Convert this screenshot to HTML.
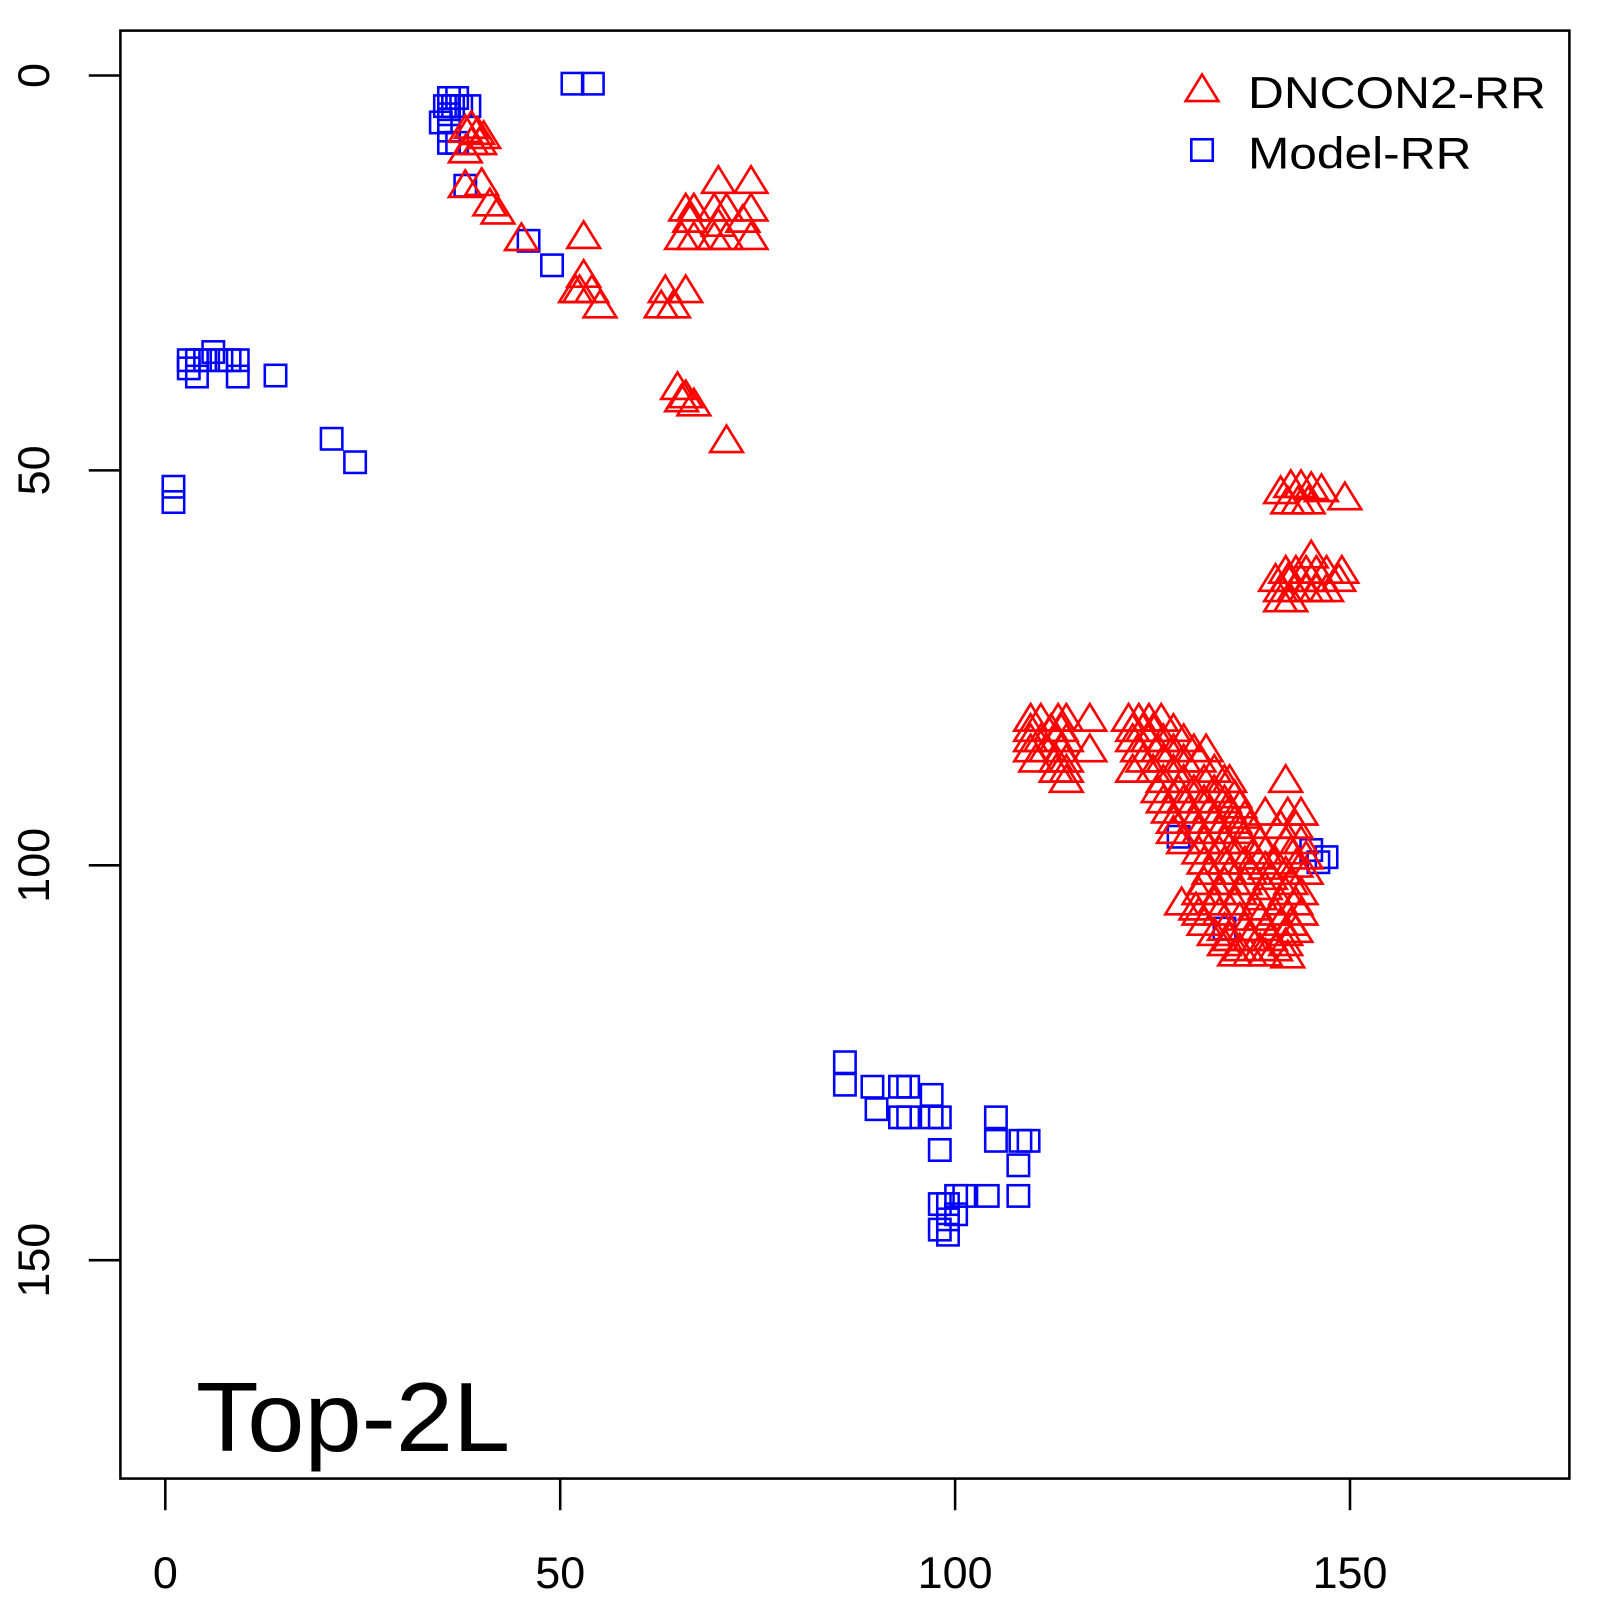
<!DOCTYPE html>
<html><head><meta charset="utf-8"><style>html,body{margin:0;padding:0;background:#fff}svg{display:block}</style></head>
<body>
<svg width="1600" height="1600" viewBox="0 0 1568 1568" xmlns="http://www.w3.org/2000/svg" font-family="Liberation Sans, sans-serif">
<defs>
<path id="t" d="M0,-15 L16,11 L-16,11 Z" fill="none" stroke="#f00" stroke-width="2.6"/>
<rect id="s" x="-10.5" y="-10.5" width="21" height="21" fill="none" stroke="#00f" stroke-width="2.5"/>
</defs>
<rect x="118" y="30" width="1420" height="1419" fill="none" stroke="#000" stroke-width="2.5"/>
<g stroke="#000" stroke-width="2.5">
<line x1="162" y1="1449" x2="162" y2="1480"/><line x1="549" y1="1449" x2="549" y2="1480"/><line x1="936" y1="1449" x2="936" y2="1480"/><line x1="1323" y1="1449" x2="1323" y2="1480"/>
<line x1="118" y1="74" x2="87" y2="74"/><line x1="118" y1="461" x2="87" y2="461"/><line x1="118" y1="848" x2="87" y2="848"/><line x1="118" y1="1235" x2="87" y2="1235"/>
</g>
<g font-size="44" text-anchor="middle" fill="#000">
<text x="162" y="1556">0</text><text x="549" y="1556">50</text><text x="936" y="1556">100</text><text x="1323" y="1556">150</text>
<text transform="translate(48,74) rotate(-90)">0</text>
<text transform="translate(48,461) rotate(-90)">50</text>
<text transform="translate(48,848) rotate(-90)">100</text>
<text transform="translate(48,1235) rotate(-90)">150</text>
</g>
<text x="192" y="1422" font-size="96" textLength="308" lengthAdjust="spacingAndGlyphs">Top-2L</text>
<use href="#t" x="1178" y="88"/><use href="#s" x="1178" y="147"/>
<text x="1223" y="106" font-size="44" textLength="292" lengthAdjust="spacingAndGlyphs">DNCON2-RR</text>
<text x="1223" y="165" font-size="44" textLength="219" lengthAdjust="spacingAndGlyphs">Model-RR</text>
<g id="sq">
<use href="#s" x="561" y="82"/><use href="#s" x="581" y="82"/>
<use href="#s" x="440" y="96"/><use href="#s" x="448" y="96"/><use href="#s" x="436" y="104"/><use href="#s" x="444" y="104"/><use href="#s" x="452" y="104"/><use href="#s" x="460" y="104"/><use href="#s" x="432" y="120"/><use href="#s" x="440" y="112"/><use href="#s" x="440" y="128"/><use href="#s" x="440" y="140"/><use href="#s" x="448" y="140"/><use href="#s" x="456" y="182"/>
<use href="#s" x="185" y="353"/><use href="#s" x="193" y="353"/><use href="#s" x="201" y="353"/><use href="#s" x="209" y="345"/><use href="#s" x="217" y="353"/><use href="#s" x="225" y="353"/><use href="#s" x="233" y="353"/><use href="#s" x="185" y="361"/><use href="#s" x="193" y="369"/><use href="#s" x="233" y="369"/><use href="#s" x="270" y="368"/><use href="#s" x="325" y="430"/><use href="#s" x="348" y="453"/><use href="#s" x="170" y="477"/><use href="#s" x="170" y="492"/>
<use href="#s" x="518" y="236"/><use href="#s" x="541" y="260"/>
<use href="#s" x="828" y="1041"/><use href="#s" x="828" y="1063"/><use href="#s" x="855" y="1065"/><use href="#s" x="859" y="1087"/><use href="#s" x="882" y="1065"/><use href="#s" x="890" y="1065"/><use href="#s" x="882" y="1095"/><use href="#s" x="890" y="1095"/><use href="#s" x="913" y="1073"/><use href="#s" x="913" y="1095"/><use href="#s" x="921" y="1095"/><use href="#s" x="921" y="1127"/><use href="#s" x="976" y="1095"/><use href="#s" x="976" y="1118"/><use href="#s" x="1000" y="1118"/><use href="#s" x="1008" y="1118"/><use href="#s" x="998" y="1142"/><use href="#s" x="998" y="1172"/><use href="#s" x="968" y="1172"/><use href="#s" x="945" y="1172"/><use href="#s" x="937" y="1172"/><use href="#s" x="929" y="1180"/><use href="#s" x="921" y="1180"/><use href="#s" x="929" y="1195"/><use href="#s" x="937" y="1190"/><use href="#s" x="929" y="1210"/><use href="#s" x="921" y="1205"/>
<use href="#s" x="1285" y="833"/><use href="#s" x="1292" y="845"/><use href="#s" x="1300" y="840"/><use href="#s" x="1155" y="820"/><use href="#s" x="1200" y="910"/>
</g>
<g id="tr">
<use href="#t" x="456" y="128"/><use href="#t" x="462" y="124"/><use href="#t" x="468" y="130"/><use href="#t" x="474" y="134"/><use href="#t" x="456" y="148"/><use href="#t" x="462" y="140"/><use href="#t" x="470" y="140"/><use href="#t" x="456" y="182"/><use href="#t" x="472" y="180"/><use href="#t" x="480" y="200"/><use href="#t" x="488" y="208"/><use href="#t" x="511" y="234"/><use href="#t" x="572" y="232"/><use href="#t" x="572" y="270"/><use href="#t" x="568" y="285"/><use href="#t" x="580" y="285"/><use href="#t" x="588" y="300"/><use href="#t" x="564" y="285"/><use href="#t" x="652" y="285"/><use href="#t" x="672" y="285"/><use href="#t" x="660" y="300"/><use href="#t" x="648" y="300"/><use href="#t" x="664" y="380"/><use href="#t" x="672" y="388"/><use href="#t" x="680" y="396"/><use href="#t" x="668" y="392"/><use href="#t" x="712" y="432"/><use href="#t" x="672" y="205"/><use href="#t" x="680" y="205"/><use href="#t" x="700" y="205"/><use href="#t" x="712" y="205"/><use href="#t" x="736" y="205"/><use href="#t" x="704" y="178"/><use href="#t" x="736" y="178"/><use href="#t" x="668" y="233"/><use href="#t" x="680" y="233"/><use href="#t" x="700" y="233"/><use href="#t" x="712" y="233"/><use href="#t" x="736" y="233"/><use href="#t" x="676" y="216"/><use href="#t" x="704" y="220"/><use href="#t" x="728" y="216"/>
<use href="#t" x="1255" y="482"/><use href="#t" x="1265" y="476"/><use href="#t" x="1275" y="476"/><use href="#t" x="1285" y="478"/><use href="#t" x="1295" y="480"/><use href="#t" x="1262" y="492"/><use href="#t" x="1272" y="492"/><use href="#t" x="1282" y="492"/><use href="#t" x="1318" y="488"/>
<use href="#t" x="1285" y="545"/><use href="#t" x="1260" y="560"/><use href="#t" x="1270" y="560"/><use href="#t" x="1280" y="560"/><use href="#t" x="1290" y="560"/><use href="#t" x="1300" y="560"/><use href="#t" x="1315" y="560"/><use href="#t" x="1250" y="568"/><use href="#t" x="1262" y="568"/><use href="#t" x="1275" y="568"/><use href="#t" x="1285" y="568"/><use href="#t" x="1295" y="568"/><use href="#t" x="1312" y="568"/><use href="#t" x="1255" y="578"/><use href="#t" x="1268" y="578"/><use href="#t" x="1280" y="578"/><use href="#t" x="1290" y="578"/><use href="#t" x="1300" y="578"/><use href="#t" x="1255" y="588"/><use href="#t" x="1265" y="588"/>
<use href="#t" x="1010" y="705"/><use href="#t" x="1020" y="705"/><use href="#t" x="1037" y="705"/><use href="#t" x="1045" y="705"/><use href="#t" x="1068" y="705"/><use href="#t" x="1106" y="705"/><use href="#t" x="1116" y="705"/><use href="#t" x="1126" y="705"/><use href="#t" x="1138" y="705"/>
<use href="#t" x="1010" y="715"/><use href="#t" x="1030" y="715"/><use href="#t" x="1040" y="715"/><use href="#t" x="1110" y="715"/><use href="#t" x="1120" y="715"/><use href="#t" x="1130" y="715"/><use href="#t" x="1150" y="715"/>
<use href="#t" x="1010" y="725"/><use href="#t" x="1020" y="725"/><use href="#t" x="1035" y="725"/><use href="#t" x="1045" y="725"/><use href="#t" x="1110" y="725"/><use href="#t" x="1125" y="725"/><use href="#t" x="1140" y="725"/><use href="#t" x="1160" y="725"/>
<use href="#t" x="1010" y="735"/><use href="#t" x="1025" y="735"/><use href="#t" x="1040" y="735"/><use href="#t" x="1068" y="735"/><use href="#t" x="1115" y="735"/><use href="#t" x="1135" y="735"/><use href="#t" x="1150" y="735"/><use href="#t" x="1170" y="735"/><use href="#t" x="1182" y="735"/>
<use href="#t" x="1015" y="745"/><use href="#t" x="1035" y="745"/><use href="#t" x="1045" y="745"/><use href="#t" x="1120" y="745"/><use href="#t" x="1140" y="745"/><use href="#t" x="1160" y="745"/><use href="#t" x="1175" y="745"/>
<use href="#t" x="1035" y="755"/><use href="#t" x="1045" y="755"/><use href="#t" x="1110" y="755"/><use href="#t" x="1130" y="755"/><use href="#t" x="1150" y="755"/><use href="#t" x="1190" y="755"/><use href="#t" x="1205" y="765"/>
<use href="#t" x="1045" y="765"/><use href="#t" x="1140" y="765"/><use href="#t" x="1160" y="765"/><use href="#t" x="1180" y="765"/><use href="#t" x="1200" y="765"/><use href="#t" x="1260" y="765"/>
<use href="#t" x="1135" y="775"/><use href="#t" x="1155" y="775"/><use href="#t" x="1170" y="775"/><use href="#t" x="1190" y="775"/><use href="#t" x="1210" y="780"/>
<use href="#t" x="1140" y="785"/><use href="#t" x="1160" y="785"/><use href="#t" x="1180" y="785"/><use href="#t" x="1200" y="785"/><use href="#t" x="1215" y="790"/>
<use href="#t" x="1145" y="795"/><use href="#t" x="1165" y="795"/><use href="#t" x="1185" y="795"/><use href="#t" x="1205" y="795"/><use href="#t" x="1220" y="800"/><use href="#t" x="1240" y="797"/><use href="#t" x="1262" y="797"/><use href="#t" x="1275" y="797"/>
<use href="#t" x="1150" y="805"/><use href="#t" x="1170" y="805"/><use href="#t" x="1190" y="805"/><use href="#t" x="1210" y="805"/><use href="#t" x="1225" y="810"/><use href="#t" x="1255" y="810"/><use href="#t" x="1270" y="810"/>
<use href="#t" x="1150" y="815"/><use href="#t" x="1175" y="815"/><use href="#t" x="1195" y="815"/><use href="#t" x="1215" y="815"/><use href="#t" x="1235" y="825"/><use href="#t" x="1260" y="825"/><use href="#t" x="1275" y="825"/>
<use href="#t" x="1160" y="825"/><use href="#t" x="1180" y="825"/><use href="#t" x="1200" y="825"/><use href="#t" x="1220" y="825"/><use href="#t" x="1240" y="835"/><use href="#t" x="1265" y="835"/><use href="#t" x="1280" y="840"/>
<use href="#t" x="1175" y="835"/><use href="#t" x="1195" y="835"/><use href="#t" x="1210" y="835"/><use href="#t" x="1230" y="840"/><use href="#t" x="1250" y="845"/><use href="#t" x="1270" y="848"/>
<use href="#t" x="1180" y="845"/><use href="#t" x="1200" y="845"/><use href="#t" x="1220" y="845"/><use href="#t" x="1240" y="850"/><use href="#t" x="1260" y="855"/><use href="#t" x="1280" y="855"/>
<use href="#t" x="1185" y="855"/><use href="#t" x="1205" y="855"/><use href="#t" x="1225" y="855"/><use href="#t" x="1245" y="860"/><use href="#t" x="1265" y="865"/>
<use href="#t" x="1180" y="865"/><use href="#t" x="1200" y="865"/><use href="#t" x="1220" y="865"/><use href="#t" x="1240" y="870"/><use href="#t" x="1260" y="875"/><use href="#t" x="1275" y="875"/>
<use href="#t" x="1175" y="875"/><use href="#t" x="1195" y="875"/><use href="#t" x="1215" y="875"/><use href="#t" x="1235" y="880"/><use href="#t" x="1255" y="885"/><use href="#t" x="1270" y="885"/>
<use href="#t" x="1158" y="885"/><use href="#t" x="1172" y="890"/><use href="#t" x="1190" y="885"/><use href="#t" x="1210" y="885"/><use href="#t" x="1230" y="890"/><use href="#t" x="1250" y="895"/><use href="#t" x="1275" y="895"/>
<use href="#t" x="1175" y="895"/><use href="#t" x="1195" y="895"/><use href="#t" x="1215" y="900"/><use href="#t" x="1235" y="900"/><use href="#t" x="1255" y="905"/><use href="#t" x="1265" y="905"/>
<use href="#t" x="1180" y="905"/><use href="#t" x="1200" y="910"/><use href="#t" x="1220" y="910"/><use href="#t" x="1240" y="910"/><use href="#t" x="1260" y="915"/><use href="#t" x="1270" y="912"/>
<use href="#t" x="1190" y="915"/><use href="#t" x="1205" y="920"/><use href="#t" x="1225" y="920"/><use href="#t" x="1245" y="920"/><use href="#t" x="1260" y="925"/>
<use href="#t" x="1200" y="925"/><use href="#t" x="1215" y="930"/><use href="#t" x="1235" y="930"/><use href="#t" x="1250" y="930"/>
<use href="#t" x="1210" y="935"/><use href="#t" x="1225" y="935"/><use href="#t" x="1240" y="935"/><use href="#t" x="1262" y="937"/>
</g>
</svg>
</body></html>
